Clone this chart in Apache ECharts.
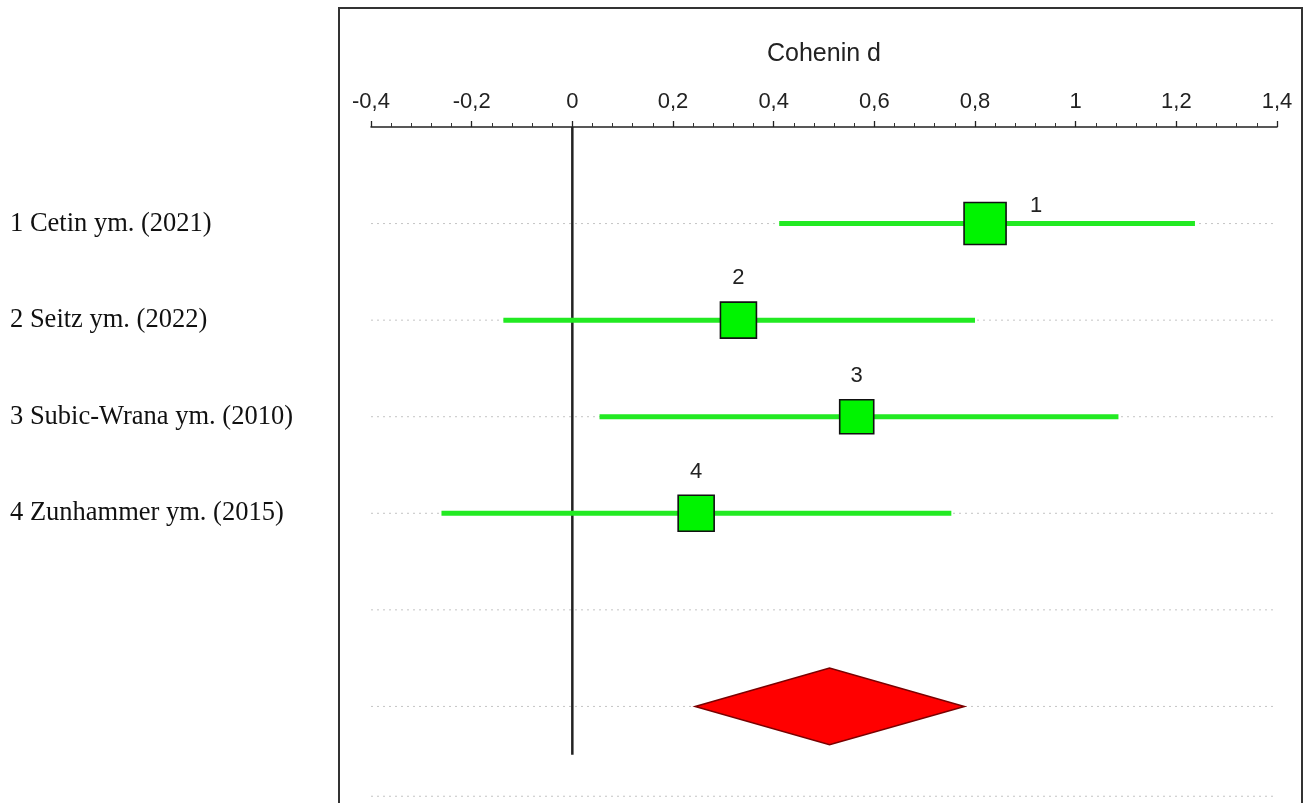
<!DOCTYPE html>
<html>
<head>
<meta charset="utf-8">
<script src="https://cdn.jsdelivr.net/npm/echarts@6/dist/echarts.min.js"></script>
<style>html,body{margin:0;padding:0;background:#fff;}#c{width:1311px;height:803px;}</style>
</head>
<body>
<div id="c"></div>
<script>
// ---- data ----
const studies = ['1 Cetin ym. (2021)', '2 Seitz ym. (2022)', '3 Subic-Wrana ym. (2010)', '4 Zunhammer ym. (2015)'];
const studyIds = ['1', '2', '3', '4'];
const effect = [0.82, 0.33, 0.565, 0.246];
const ciLow = [0.411, -0.137, 0.054, -0.26];
const ciHigh = [1.237, 0.80, 1.085, 0.753];
const weights = [32, 23.5, 21, 23.5];
const pooled = { est: 0.511, lo: 0.244, hi: 0.779 };
const xTicks = [-0.4, -0.2, 0, 0.2, 0.4, 0.6, 0.8, 1, 1.2, 1.4];

// ---- chart ----
const rows = studies.map((s, i) => i + 1);
const pooledRow = 6;
const guideRows = [1, 2, 3, 4, 5, 6, 6.93];
const chart = echarts.init(document.getElementById('c'));
const sizeK = 42 / Math.sqrt(32);

const option = {
  animation: false,
  backgroundColor: '#fff',
  grid: { left: 371, right: 34, top: 127, height: 679, containLabel: false },
  xAxis: {
    type: 'value', position: 'top', min: xTicks[0], max: xTicks[xTicks.length - 1], interval: 0.2,
    name: 'Cohenin d', nameLocation: 'middle', nameGap: 60,
    nameTextStyle: { fontFamily: 'Liberation Sans, Arial', fontSize: 25, color: '#222' },
    axisLine: { show: true, lineStyle: { color: '#222', width: 1.5 } },
    axisTick: { show: true, length: 6, lineStyle: { color: '#222', width: 1.3 } },
    minorTick: { show: true, splitNumber: 5, length: 4, lineStyle: { color: '#333', width: 1 } },
    splitLine: { show: false },
    axisLabel: {
      margin: 14, fontFamily: 'Liberation Sans, Arial', fontSize: 22, color: '#222',
      formatter: v => String(Math.round(v * 10) / 10).replace('.', ',')
    }
  },
  yAxis: {
    type: 'value', inverse: true, min: 0, max: 7, interval: 1,
    axisLine: { show: false }, axisTick: { show: false }, splitLine: { show: false },
    axisLabel: {
      align: 'left', margin: 361, fontFamily: 'Liberation Serif, Times New Roman, serif',
      fontSize: 26.5, color: '#111',
      formatter: v => (v >= 1 && v <= studies.length && Number.isInteger(v)) ? studies[v - 1] : ''
    }
  },
  graphic: [{
    type: 'rect', shape: { x: 339, y: 8, width: 963, height: 820 },
    style: { fill: 'none', stroke: '#333', lineWidth: 2 }, z: 100, silent: true
  }],
  series: [
    {
      // row guide lines
      type: 'custom', z: 1, silent: true,
      data: guideRows.map(r => [xTicks[0], xTicks[xTicks.length - 1], r]),
      renderItem: (params, api) => {
        const a = api.coord([api.value(0), api.value(2)]);
        const b = api.coord([api.value(1), api.value(2)]);
        return { type: 'line', shape: { x1: a[0], y1: a[1], x2: b[0], y2: b[1] },
          style: { stroke: '#c4c4c4', lineWidth: 1, lineDash: [2, 4] } };
      }
    },
    {
      // zero line
      type: 'custom', z: 2, silent: true,
      data: [[0, 0, 6.5]],
      renderItem: (params, api) => {
        const a = api.coord([api.value(0), api.value(1)]);
        const b = api.coord([api.value(0), api.value(2)]);
        return { type: 'line', shape: { x1: a[0], y1: a[1], x2: b[0], y2: b[1] },
          style: { stroke: '#222', lineWidth: 2.5 } };
      }
    },
    {
      // confidence intervals
      type: 'custom', z: 3, silent: true,
      data: rows.map((r, i) => [ciLow[i], ciHigh[i], r]),
      renderItem: (params, api) => {
        const a = api.coord([api.value(0), api.value(2)]);
        const b = api.coord([api.value(1), api.value(2)]);
        return { type: 'line', shape: { x1: a[0], y1: a[1], x2: b[0], y2: b[1] },
          style: { stroke: '#22ea22', lineWidth: 5 } };
      }
    },
    {
      // point estimates
      type: 'scatter', z: 4, symbol: 'rect',
      data: rows.map((r, i) => ({
        value: [effect[i], r],
        symbolSize: sizeK * Math.sqrt(weights[i]),
        label: i === 0 ? { show: true, position: 'inside', offset: [51, -18], formatter: studyIds[i] }
                       : { show: true, position: 'top', distance: 12, formatter: studyIds[i] }
      })),
      itemStyle: { color: '#00f400', borderColor: '#111', borderWidth: 1.6, opacity: 1 },
      label: { fontFamily: 'Liberation Sans, Arial', fontSize: 22, color: '#222' }
    },
    {
      // pooled diamond
      type: 'custom', z: 5, silent: true,
      data: [[pooled.lo, pooled.est, pooled.hi, pooledRow]],
      renderItem: (params, api) => {
        const r = api.value(3), h = 0.397;
        const pts = [
          api.coord([api.value(0), r]),
          api.coord([api.value(1), r - h]),
          api.coord([api.value(2), r]),
          api.coord([api.value(1), r + h])
        ];
        return { type: 'polygon', shape: { points: pts },
          style: { fill: '#ff0000', stroke: '#7a0000', lineWidth: 1.5 } };
      }
    }
  ]
};
chart.setOption(option);
</script>
</body>
</html>
